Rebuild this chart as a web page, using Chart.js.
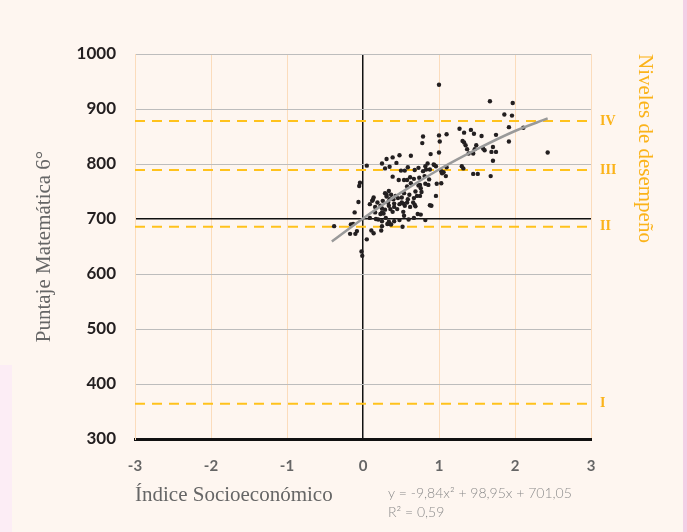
<!DOCTYPE html>
<html>
<head>
<meta charset="utf-8">
<script src="https://cdn.jsdelivr.net/npm/chart.js@4.4.1/dist/chart.umd.min.js"></script>
<style>
  html, body { margin: 0; padding: 0; }
  body {
    width: 687px; height: 532px; overflow: hidden;
    background:
      linear-gradient(to right, transparent 683px, #f3cde5 683px),
      linear-gradient(to bottom, transparent 365px, #fcedf5 365px) 0 0 / 12px 532px no-repeat,
      #fef6f0;
  }
  #wrap { position: relative; width: 687px; height: 532px; }
</style>
</head>
<body>
<div id="wrap"><canvas id="grafico" width="687" height="532"></canvas></div>
<script>
// indice socioeconomico (x) y puntaje matematica 6° (y) de cada establecimiento
const indiceX = [
  1.00, 1.67, 1.97, 1.86, 1.96, 1.92, 2.11, 1.92, 2.43, 1.27,
  1.33, 1.42, 1.46, 1.56, 1.75, 1.31, 1.33, 1.35, 1.37, 1.49,
  1.47, 1.58, 1.60, 1.71, 1.69, 1.75, 1.71, 1.45, 1.39, 1.30,
  1.32, 1.45, 1.51, 1.68, 1.10, 1.00, 1.01, 1.00, 0.79, 0.78,
  0.89, 0.63, 0.48, 0.39, 0.31, 0.25, 0.44, 0.35, 0.29, 0.05,
  0.85, 0.93, 0.96, 0.73, 0.59, 0.50, 0.55, 0.68, 0.79, 0.83,
  0.88, 1.03, 1.06, 1.04, 1.10, 1.09, 1.03, 0.97, 0.39, 0.47,
  0.54, 0.62, 0.67, 0.74, 0.81, 0.87, 0.82, 0.86, 0.75, 0.76,
  0.58, 0.63, 0.69, 0.77, 0.75, 0.71, 0.67, 0.61, 0.59, 0.66,
  0.68, 0.54, 0.51, 0.43, 0.46, 0.40, 0.37, 0.34, 0.29, 0.31,
  0.26, 0.35, 0.41, 0.48, 0.51, 0.58, 0.55, 0.53, 0.54, 0.62,
  0.72, 0.76, 0.82, 0.67, 0.60, 0.48, 0.52, 0.41, 0.37, 0.35,
  0.34, 0.30, 0.27, 0.29, 0.36, 0.39, 0.41, 0.45, 0.33, 0.23,
  0.19, 0.16, 0.09, 0.13, 0.14, 0.25, 0.23, 0.16, 0.25, 0.17,
  0.20, 0.09, 0.32, 0.25, 0.24, 0.25, -0.06, -0.05, -0.04, -0.11,
  -0.38, -0.16, -0.13, -0.17, -0.10, -0.08, 0.05, -0.02, -0.01, 0.11,
  0.14, 0.90, 0.88, 0.96, 0.12, 0.31, 0.53, 0.34, 0.69, 0.73,
  0.58, 0.94, 0.82
];
const puntaje = [
  944, 914, 911, 890, 888, 867, 866, 841, 821, 864,
  857, 862, 855, 851, 853, 842, 839, 834, 827, 834,
  827, 828, 825, 831, 822, 822, 806, 819, 819, 796,
  792, 782, 782, 778, 854, 852, 841, 821, 850, 838,
  818, 815, 816, 812, 809, 801, 802, 795, 792, 797,
  801, 799, 796, 793, 794, 788, 788, 789, 787, 790,
  790, 787, 785, 783, 794, 778, 765, 764, 777, 771,
  771, 776, 773, 775, 778, 772, 764, 762, 762, 756,
  759, 765, 750, 749, 742, 742, 738, 744, 736, 730,
  726, 747, 739, 742, 738, 736, 744, 751, 747, 741,
  733, 736, 728, 727, 730, 730, 724, 713, 706, 722,
  709, 708, 698, 702, 699, 698, 686, 696, 690, 691,
  695, 702, 710, 717, 718, 713, 722, 718, 730, 724,
  730, 722, 727, 735, 739, 712, 709, 712, 719, 700,
  699, 702, 691, 687, 679, 696, 731, 760, 766, 712,
  687, 690, 691, 673, 673, 678, 663, 641, 633, 679,
  674, 724, 725, 742, 733, 744, 728, 724, 723, 761,
  771, 798, 796
];

// linea de tendencia (polinomica de grado 2)
const tendenciaX = [-0.41, 0, 0.5, 1, 1.5, 2, 2.43];
const tendenciaY = [659, 701, 748, 790, 827, 860, 883];
const ecuacion = ['y = -9,84x² + 98,95x + 701,05', 'R² = 0,59'];

// niveles de desempeño
const nivelesValores = [364, 686, 789, 878];
const nivelesEtiquetas = ['I', 'II', 'III', 'IV'];
const nivelExtremos = [-3, 3];

const dorado = '#fbb31a';
const durazno = '#fbdcbc';

const datasetsNiveles = nivelesValores.map(v => ({
  type: 'line',
  data: nivelExtremos.map(x => ({x: x, y: v})),
  borderColor: '#ffc21c',
  borderWidth: 2,
  borderDash: [10, 7],
  pointRadius: 0,
  order: 3
}));

const textoEcuacion = {
  id: 'textoEcuacion',
  afterDraw(chart) {
    const ctx = chart.ctx;
    ctx.save();
    ctx.fillStyle = '#8c8c8c';
    ctx.font = '300 14px Lato';
    ctx.textBaseline = 'middle';
    ctx.fillText(ecuacion[0], 388, 493);
    ctx.fillText(ecuacion[1], 388, 512);
    ctx.restore();
  }
};

new Chart(document.getElementById('grafico'), {
  type: 'scatter',
  data: {
    datasets: [
      {
        type: 'line',
        data: tendenciaX.map((x, i) => ({x: x, y: tendenciaY[i]})),
        borderColor: '#9a9a9a',
        borderWidth: 2.5,
        pointRadius: 0,
        cubicInterpolationMode: 'monotone',
        order: 1
      },
      {
        data: indiceX.map((x, i) => ({x: x, y: puntaje[i]})),
        backgroundColor: '#231f20',
        borderWidth: 0,
        pointRadius: 2.2,
        order: 2
      },
      ...datasetsNiveles
    ]
  },
  options: {
    responsive: false,
    animation: false,
    layout: {padding: {top: 54, left: 0, right: 0, bottom: 0}},
    plugins: {legend: {display: false}, tooltip: {enabled: false}},
    scales: {
      x: {
        type: 'linear', min: -3, max: 3,
        afterFit: s => { s.height = 93; },
        ticks: {stepSize: 1, color: '#666', padding: 18, font: {family: 'Lato', size: 15, weight: 'bold'}},
        grid: {
          drawTicks: false,
          color: c => c.tick && c.tick.value === 0 ? '#111' : durazno,
          lineWidth: c => c.tick && c.tick.value === 0 ? 1.5 : 1
        },
        border: {color: '#111', width: 3},
        title: {
          display: true, text: 'Índice Socioeconómico', align: 'start', color: '#666',
          font: {family: 'Liberation Serif', size: 21}, padding: {top: 0, bottom: 24}
        }
      },
      y: {
        min: 300, max: 1000,
        afterFit: s => { s.width = 135; },
        ticks: {
          stepSize: 100, color: '#231f20', padding: 19,
          font: {family: 'Lato', size: 17, weight: 'bold'},
          callback: v => String(v)
        },
        grid: {
          drawTicks: false,
          color: c => {
            if (!c.tick) return '#bdbdbd';
            if (c.tick.value === 700) return '#111';
            if (c.tick.value === 300) return 'rgba(0,0,0,0)';
            return '#bdbdbd';
          },
          lineWidth: c => c.tick && c.tick.value === 700 ? 1.5 : 1
        },
        border: {color: durazno, width: 1},
        title: {
          display: true, text: 'Puntaje Matemática 6°', color: '#666',
          font: {family: 'Liberation Serif', size: 21}, padding: {top: 32, bottom: 0}
        }
      },
      y2: {
        position: 'right',
        min: 300, max: 1000,
        afterFit: s => { s.width = 96; },
        afterBuildTicks: s => { s.ticks = nivelesValores.map(v => ({value: v})); },
        ticks: {
          color: dorado, padding: 9,
          font: {family: 'Liberation Serif', size: 14, weight: 'bold'},
          callback: (v, i) => nivelesEtiquetas[i]
        },
        grid: {display: false, drawTicks: false},
        border: {display: false},
        title: {
          display: true, text: 'Niveles de desempeño', align: 'end', color: dorado,
          font: {family: 'Liberation Serif', size: 21}, padding: {top: 30, bottom: 0}
        }
      }
    }
  },
  plugins: [textoEcuacion]
});
</script>
</body>
</html>
